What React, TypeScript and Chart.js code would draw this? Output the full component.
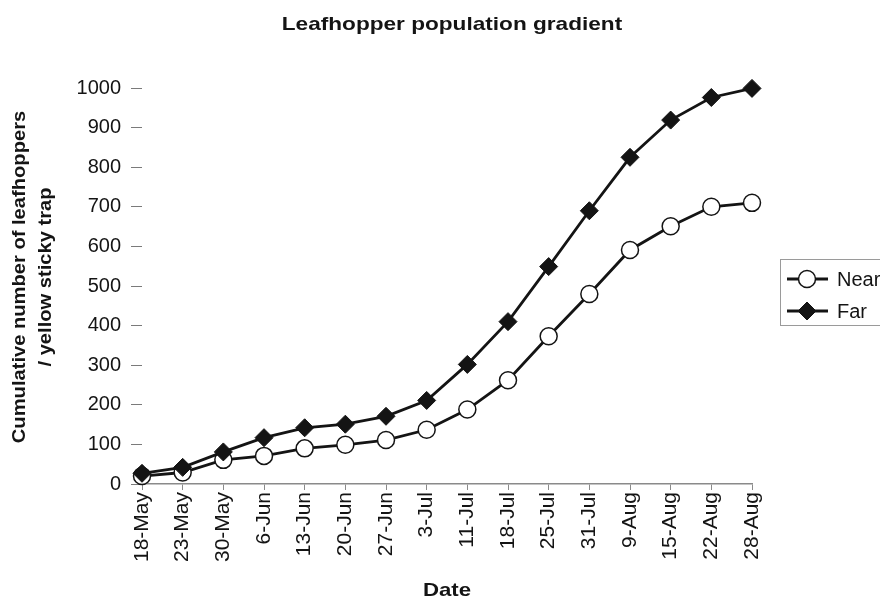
import React, { useEffect, useRef } from "react";
import { Chart, registerables } from "chart.js";

Chart.register(...registerables);

const categories = [
  "18-May", "23-May", "30-May", "6-Jun", "13-Jun", "20-Jun", "27-Jun", "3-Jul",
  "11-Jul", "18-Jul", "25-Jul", "31-Jul", "9-Aug", "15-Aug", "22-Aug", "28-Aug",
];
const nearValues = [20, 29, 61, 71, 90, 99, 111, 137, 188, 262, 373, 480, 591, 651, 700, 710];
const farValues = [27, 42, 81, 117, 142, 151, 171, 211, 302, 410, 549, 690, 825, 919, 976, 999];
const yTicks = [0, 100, 200, 300, 400, 500, 600, 700, 800, 900, 1000];

const chartTitle = "Leafhopper population gradient";
const yTitleLines = ["Cumulative number of leafhoppers", "/ yellow sticky trap"];
const xTitle = "Date";

const FONT = "'Liberation Sans', Arial, sans-serif";
const INK = "#141414";

function stretchedText(ctx: any, text: string, x: number, y: number, sx: number, rot: number) {
  ctx.save();
  ctx.translate(x, y);
  ctx.rotate(rot);
  ctx.scale(sx, 1);
  ctx.fillText(text, 0, 0);
  ctx.restore();
}

const textsPlugin = {
  id: "texts",
  afterDraw(chart: any) {
    const { ctx, chartArea } = chart;
    const cx = (chartArea.left + chartArea.right) / 2;
    const cy = (chartArea.top + chartArea.bottom) / 2;
    ctx.save();
    ctx.fillStyle = INK;
    ctx.textAlign = "center";
    ctx.textBaseline = "middle";
    ctx.font = `bold 19px ${FONT}`;
    stretchedText(ctx, chartTitle, cx + 5, 25, 1.19, 0);
    yTitleLines.forEach((line, i) => {
      stretchedText(ctx, line, 20 + i * 26, cy - 9, 1.06, -Math.PI / 2);
    });
    stretchedText(ctx, xTitle, cx, 591, 1.17, 0);
    ctx.restore();
  },
};

const boxLegend = {
  id: "boxLegend",
  afterDraw(chart: any) {
    const { ctx, chartArea } = chart;
    const left = chartArea.right + 28;
    const top = 259;
    ctx.save();
    ctx.strokeStyle = "#9a9a9a";
    ctx.lineWidth = 1;
    ctx.strokeRect(left + 0.5, top + 0.5, 200, 66);
    chart.data.datasets.forEach((ds: any, i: number) => {
      const y = top + 20 + i * 32;
      ctx.strokeStyle = ds.borderColor;
      ctx.lineWidth = ds.borderWidth;
      ctx.beginPath();
      ctx.moveTo(left + 7, y);
      ctx.lineTo(left + 48, y);
      ctx.stroke();
      ctx.fillStyle = ds.pointBackgroundColor;
      ctx.strokeStyle = ds.pointBorderColor;
      ctx.lineWidth = ds.pointBorderWidth;
      const mx = left + 27;
      const r = ds.pointRadius;
      ctx.beginPath();
      if (ds.pointStyle === "circle") {
        ctx.arc(mx, y, r, 0, Math.PI * 2);
      } else {
        ctx.moveTo(mx, y - r);
        ctx.lineTo(mx + r, y);
        ctx.lineTo(mx, y + r);
        ctx.lineTo(mx - r, y);
        ctx.closePath();
      }
      ctx.fill();
      ctx.stroke();
      ctx.fillStyle = INK;
      ctx.font = `20px ${FONT}`;
      ctx.textAlign = "left";
      ctx.textBaseline = "middle";
      ctx.fillText(ds.label, left + 57, y + 1);
    });
    ctx.restore();
  },
};

export default function App() {
  const ref = useRef<HTMLCanvasElement>(null);
  useEffect(() => {
    document.body.style.margin = "0";
    Chart.defaults.font.family = FONT;
    Chart.defaults.color = INK;
    const chart = new Chart(ref.current as HTMLCanvasElement, {
      type: "line",
      data: {
        labels: categories,
        datasets: [
          {
            label: "Near",
            data: nearValues,
            order: 1,
            borderColor: INK,
            borderWidth: 2.8,
            pointStyle: "circle",
            pointRadius: 8.5,
            pointBackgroundColor: "#ffffff",
            pointBorderColor: INK,
            pointBorderWidth: 1.5,
            tension: 0,
            clip: false,
          },
          {
            label: "Far",
            data: farValues,
            order: 0,
            borderColor: INK,
            borderWidth: 2.8,
            pointStyle: "rectRot",
            pointRadius: 9,
            pointBackgroundColor: INK,
            pointBorderColor: INK,
            pointBorderWidth: 1,
            tension: 0,
            clip: false,
          },
        ],
      },
      options: {
        responsive: false,
        devicePixelRatio: 1,
        animation: false,
        layout: { padding: { left: 0, right: 128, top: 88, bottom: 0 } },
        plugins: {
          legend: { display: false },
          tooltip: { enabled: false },
          title: { display: false },
        },
        scales: {
          x: {
            offset: false,
            grid: {
              drawOnChartArea: false,
              tickLength: 6,
              color: "#8a8a8a",
            },
            border: { display: true, color: "#8a8a8a", width: 1.5 },
            ticks: {
              autoSkip: false,
              minRotation: 90,
              maxRotation: 90,
              padding: 2,
              font: { size: 21 },
              color: INK,
            },
            afterFit: (scale: any) => {
              scale.height = 117;
            },
          },
          y: {
            min: 0,
            max: 1000,
            afterBuildTicks: (scale: any) => {
              scale.ticks = yTicks.map((v) => ({ value: v }));
            },
            grid: {
              drawOnChartArea: false,
              tickLength: 11,
              color: "#7a7a7a",
            },
            border: { display: false },
            ticks: {
              padding: 10,
              font: { size: 20 },
              color: INK,
              callback: (v: any) => String(v),
            },
            afterFit: (scale: any) => {
              scale.width = 142;
            },
          },
        },
      },
      plugins: [textsPlugin, boxLegend],
    });
    return () => chart.destroy();
  }, []);
  return <canvas ref={ref} width={880} height={601} style={{ display: "block" }} />;
}
